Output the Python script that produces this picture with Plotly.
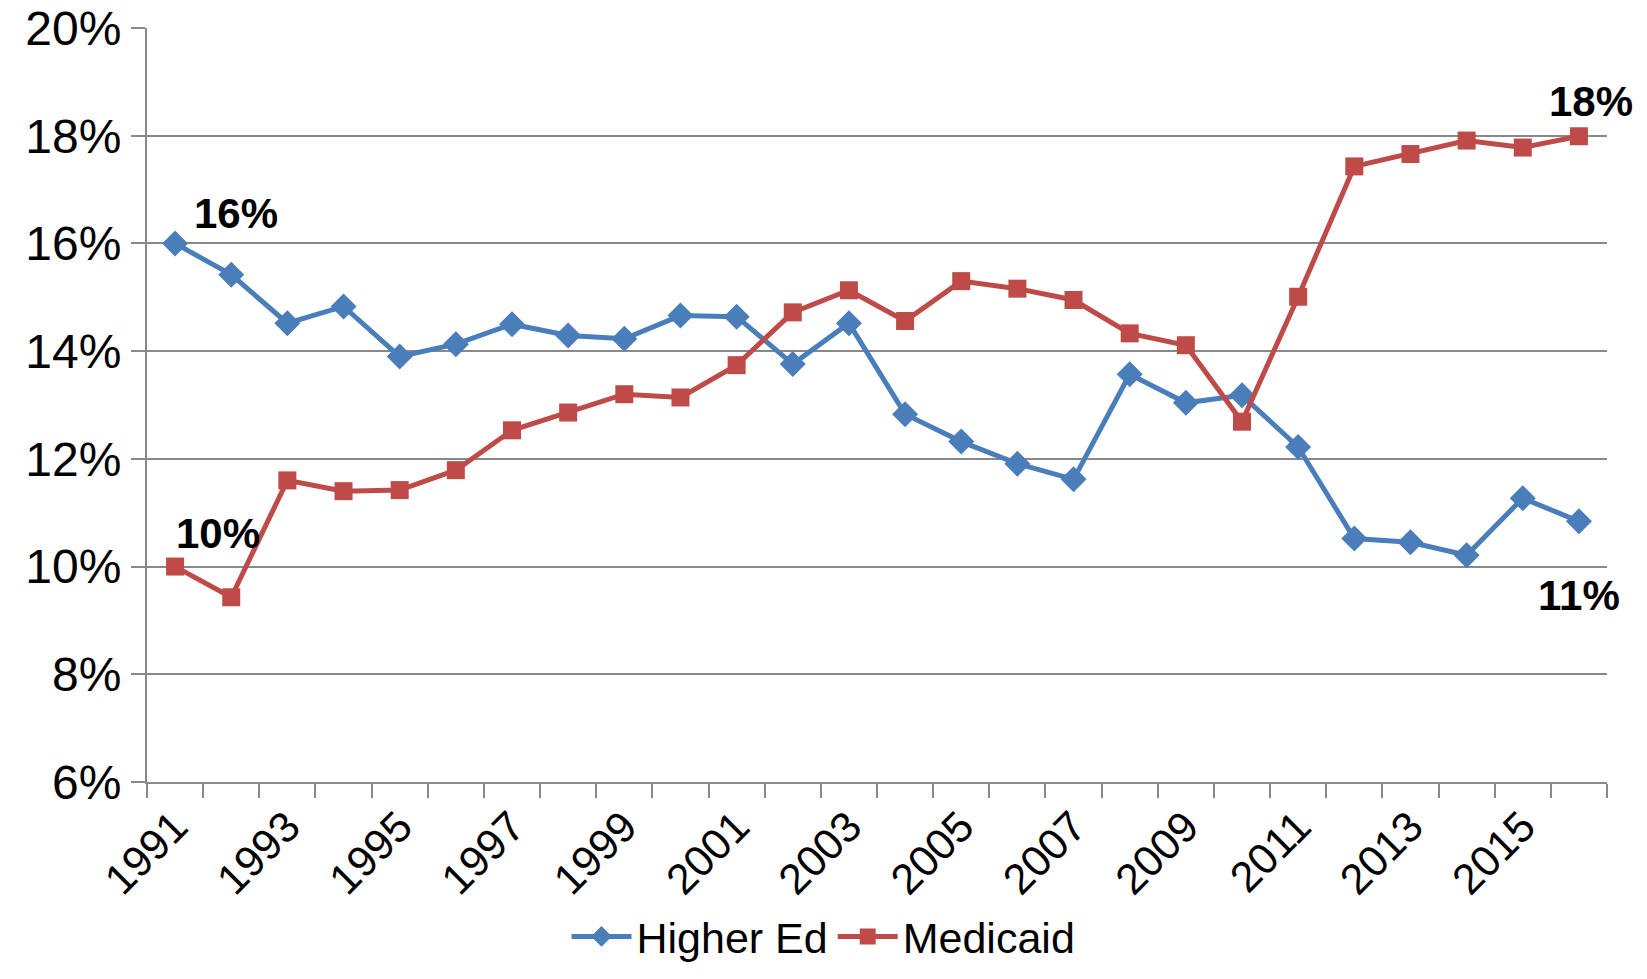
import plotly.graph_objects as go

years = list(range(1991, 2017))
higher_ed = [16.0, 15.42, 14.52, 14.83, 13.90, 14.13, 14.50, 14.29, 14.23, 14.66,
             14.64, 13.76, 14.52, 12.83, 12.32, 11.91, 11.62, 13.57, 13.04, 13.18,
             12.22, 10.52, 10.45, 10.21, 11.27, 10.84]
medicaid = [10.0, 9.43, 11.60, 11.40, 11.42, 11.79, 12.53, 12.86, 13.20, 13.14,
            13.74, 14.72, 15.13, 14.56, 15.30, 15.16, 14.95, 14.33, 14.11, 12.69,
            15.01, 17.43, 17.66, 17.91, 17.78, 17.99]
y_ticks = [6, 8, 10, 12, 14, 16, 18, 20]
x_ticks = list(range(1991, 2017, 2))

FONT = "Liberation Sans, Arial, sans-serif"
GRID = "#898989"
BLUE = "#4A7EBB"
RED = "#BE4B48"

fig = go.Figure()
fig.add_trace(go.Scatter(x=years, y=higher_ed, name="Higher Ed", mode="lines+markers",
                         line=dict(color=BLUE, width=5),
                         marker=dict(symbol="diamond", size=20, color=BLUE),
                         cliponaxis=False))
fig.add_trace(go.Scatter(x=years, y=medicaid, name="Medicaid", mode="lines+markers",
                         line=dict(color=RED, width=5),
                         marker=dict(symbol="square", size=18, color=RED),
                         cliponaxis=False))

labels = [(1992.08, 16.56, "16%"), (1991.76, 10.62, "10%"),
          (2016.22, 18.63, "18%"), (2016.0, 9.47, "11%")]
for x, y, t in labels:
    fig.add_annotation(x=x, y=y, text="<b>%s</b>" % t, showarrow=False,
                       font=dict(family=FONT, size=42, color="black"),
                       xanchor="center", yanchor="middle")

fig.update_layout(
    width=1631, height=963,
    paper_bgcolor="white", plot_bgcolor="white",
    margin=dict(l=139, r=32, t=20, b=189, autoexpand=False),
    font=dict(family=FONT, color="black"),
    showlegend=True,
    legend=dict(orientation="h", xref="container", x=0.5, xanchor="center",
                yref="container", y=0.0, yanchor="bottom", borderwidth=0,
                font=dict(family=FONT, size=43), itemwidth=60, tracegroupgap=0),
)
fig.update_xaxes(
    range=[1990.5, 2016.5], tickmode="array", tickvals=x_ticks,
    ticktext=[str(v) for v in x_ticks], tickangle=-45, ticklabeloverflow="allow",
    tickfont=dict(family=FONT, size=43, color="black"),
    ticks="", showgrid=False, zeroline=False, automargin=False,
    showline=True, linecolor=GRID, linewidth=2,
    minor=dict(tick0=1990.5, dtick=1, ticks="outside", ticklen=14, tickcolor=GRID,
               tickwidth=2, showgrid=False),
)
fig.update_yaxes(
    range=[6, 20], tickmode="array", tickvals=y_ticks,
    ticktext=["%d%%" % v for v in y_ticks], ticklabeloverflow="allow",
    tickfont=dict(family=FONT, size=48, color="black"),
    ticks="outside", ticklen=14, tickcolor=GRID, tickwidth=2, automargin=False,
    showgrid=True, gridcolor=GRID, gridwidth=2, zeroline=False,
    showline=True, linecolor=GRID, linewidth=2,
)
fig.write_html("out.html")
